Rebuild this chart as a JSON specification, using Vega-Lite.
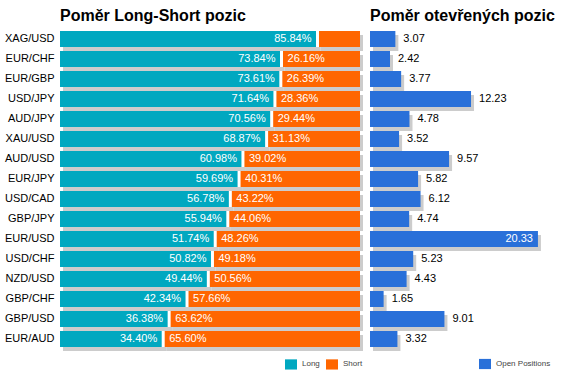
{
  "$schema": "https://vega.github.io/schema/vega-lite/v6.json",
  "padding": {"top": 8, "left": 4, "right": 5, "bottom": 5},
  "background": "white",
  "config": {
    "view": {"stroke": null},
    "font": "Liberation Sans",
    "title": {"font": "Liberation Sans", "fontSize": 16, "fontWeight": "bold", "color": "#000", "anchor": "start", "frame": "group", "offset": 5},
    "axis": {"labelFont": "Liberation Sans"},
    "legend": {"labelFont": "Liberation Sans", "labelFontSize": 8, "labelColor": "#444", "symbolType": "M-1,-0.85H1V0.85H-1Z", "symbolSize": 144, "symbolStrokeWidth": 0, "labelOffset": 5, "columnPadding": 6, "padding": 0}
  },
  "data": {
    "values": [
      {"pair": "XAG/USD", "Long": 0.8584, "Short": 0.1416, "Open": 3.07},
      {"pair": "EUR/CHF", "Long": 0.7384, "Short": 0.2616, "Open": 2.42},
      {"pair": "EUR/GBP", "Long": 0.7361, "Short": 0.2639, "Open": 3.77},
      {"pair": "USD/JPY", "Long": 0.7164, "Short": 0.2836, "Open": 12.23},
      {"pair": "AUD/JPY", "Long": 0.7056, "Short": 0.2944, "Open": 4.78},
      {"pair": "XAU/USD", "Long": 0.6887, "Short": 0.3113, "Open": 3.52},
      {"pair": "AUD/USD", "Long": 0.6098, "Short": 0.3902, "Open": 9.57},
      {"pair": "EUR/JPY", "Long": 0.5969, "Short": 0.4031, "Open": 5.82},
      {"pair": "USD/CAD", "Long": 0.5678, "Short": 0.4322, "Open": 6.12},
      {"pair": "GBP/JPY", "Long": 0.5594, "Short": 0.4406, "Open": 4.74},
      {"pair": "EUR/USD", "Long": 0.5174, "Short": 0.4826, "Open": 20.33},
      {"pair": "USD/CHF", "Long": 0.5082, "Short": 0.4918, "Open": 5.23},
      {"pair": "NZD/USD", "Long": 0.4944, "Short": 0.5056, "Open": 4.43},
      {"pair": "GBP/CHF", "Long": 0.4234, "Short": 0.5766, "Open": 1.65},
      {"pair": "GBP/USD", "Long": 0.3638, "Short": 0.6362, "Open": 9.01},
      {"pair": "EUR/AUD", "Long": 0.3440, "Short": 0.6560, "Open": 3.32}
    ]
  },
  "spacing": 7,
  "resolve": {"scale": {"color": "independent"}, "legend": {"color": "independent"}},
  "hconcat": [
    {
      "title": "Poměr Long-Short pozic",
      "width": 300,
      "height": 320,
      "encoding": {
        "y": {"field": "pair", "type": "nominal", "sort": null, "title": null,
              "scale": {"paddingInner": 0.2, "paddingOuter": 0.1},
              "axis": {"domain": false, "ticks": false, "grid": false, "labelFontSize": 11, "labelColor": "#000", "labelPadding": 6}}
      },
      "layer": [
        {
          "transform": [{"fold": ["Long", "Short"], "as": ["side", "value"]}],
          "mark": {"type": "bar", "color": "#cccccc", "xOffset": 3, "yOffset": 4},
          "encoding": {
            "x": {"field": "value", "type": "quantitative", "stack": "zero", "scale": {"domain": [0, 1], "nice": false}, "axis": null},
            "detail": {"field": "side"}
          }
        },
        {
          "transform": [{"fold": ["Long", "Short"], "as": ["side", "value"]}],
          "mark": {"type": "bar"},
          "encoding": {
            "x": {"field": "value", "type": "quantitative", "stack": "zero"},
            "color": {"field": "side", "type": "nominal", "scale": {"domain": ["Long", "Short"], "range": ["#00a8c0", "#ff6600"]},
                      "legend": {"title": null, "orient": "none", "direction": "horizontal", "legendX": 225, "legendY": 329}}
          }
        },
        {
          "mark": {"type": "tick", "color": "white", "thickness": 3, "size": 16, "opacity": 1},
          "encoding": {"x": {"field": "Long", "type": "quantitative"}}
        },
        {
          "mark": {"type": "text", "align": "right", "dx": -6, "color": "white", "fontSize": 11},
          "encoding": {
            "x": {"field": "Long", "type": "quantitative"},
            "text": {"field": "Long", "type": "quantitative", "format": ".2%"}
          }
        },
        {
          "transform": [{"filter": "datum.Short > 0.2"}],
          "mark": {"type": "text", "align": "left", "dx": 6, "color": "white", "fontSize": 11},
          "encoding": {
            "x": {"field": "Long", "type": "quantitative"},
            "text": {"field": "Short", "type": "quantitative", "format": ".2%"}
          }
        }
      ]
    },
    {
      "title": "Poměr otevřených pozic",
      "width": 190,
      "height": 320,
      "encoding": {
        "y": {"field": "pair", "type": "nominal", "sort": null, "title": null,
              "scale": {"paddingInner": 0.2, "paddingOuter": 0.1}, "axis": null}
      },
      "layer": [
        {
          "mark": {"type": "bar", "color": "#cccccc", "xOffset": 3, "yOffset": 4},
          "encoding": {
            "x": {"field": "Open", "type": "quantitative", "scale": {"domain": [0, 23], "nice": false}, "axis": null}
          }
        },
        {
          "mark": {"type": "bar"},
          "encoding": {
            "x": {"field": "Open", "type": "quantitative"},
            "color": {"datum": "Open Positions", "type": "nominal", "scale": {"range": ["#2970d9"]},
                      "legend": {"title": null, "orient": "none", "direction": "horizontal", "legendX": 109, "legendY": 329}}
          }
        },
        {
          "transform": [{"filter": "datum.Open <= 15"}],
          "mark": {"type": "text", "align": "left", "dx": 8, "color": "#000", "fontSize": 11},
          "encoding": {
            "x": {"field": "Open", "type": "quantitative"},
            "text": {"field": "Open", "type": "quantitative", "format": ".2f"}
          }
        },
        {
          "transform": [{"filter": "datum.Open > 15"}],
          "mark": {"type": "text", "align": "right", "dx": -5, "color": "white", "fontSize": 11},
          "encoding": {
            "x": {"field": "Open", "type": "quantitative"},
            "text": {"field": "Open", "type": "quantitative", "format": ".2f"}
          }
        }
      ]
    }
  ]
}
